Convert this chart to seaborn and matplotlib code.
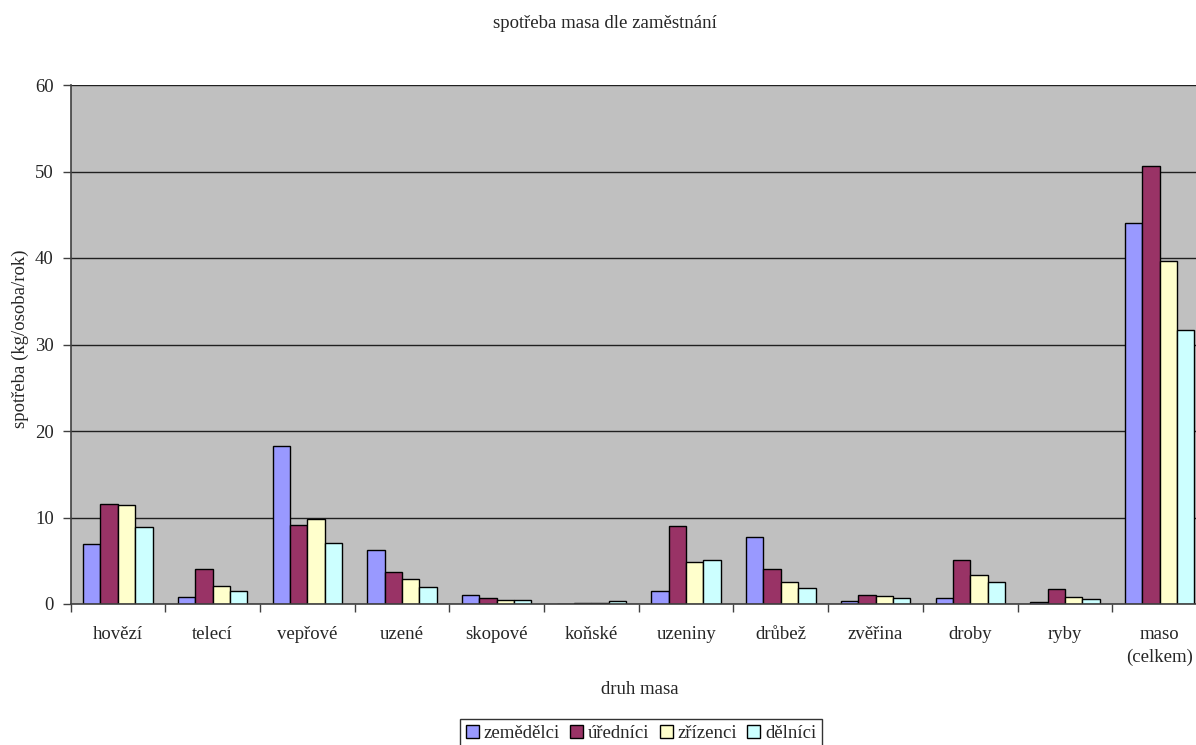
import matplotlib
matplotlib.use("Agg")
import matplotlib.pyplot as plt
from matplotlib.ticker import FixedLocator, NullFormatter
import seaborn as sns
import pandas as pd

categories = ["hovězí", "telecí", "vepřové", "uzené", "skopové", "koňské",
              "uzeniny", "drůbež", "zvěřina", "droby", "ryby", "maso\n(celkem)"]
groups = ["zemědělci", "úředníci", "zřízenci", "dělníci"]

zemedelci = [6.9, 0.8, 18.3, 6.3, 1.0, 0.0, 1.5, 7.8, 0.3, 0.7, 0.2, 44.1]
urednici = [11.6, 4.1, 9.1, 3.7, 0.7, 0.1, 9.0, 4.1, 1.0, 5.1, 1.7, 50.6]
zrizenci = [11.4, 2.1, 9.8, 2.9, 0.5, 0.15, 4.8, 2.5, 0.9, 3.4, 0.8, 39.7]
delnici = [8.9, 1.5, 7.1, 2.0, 0.5, 0.3, 5.1, 1.8, 0.7, 2.6, 0.6, 31.7]

colors = ["#9999FF", "#993366", "#FFFFCC", "#CCFFFF"]

rows = []
for g, vals in zip(groups, [zemedelci, urednici, zrizenci, delnici]):
    for c, v in zip(categories, vals):
        rows.append({"druh": c, "skupina": g, "hodnota": v})
df = pd.DataFrame(rows)

sns.set_style("white")
plt.rcParams["font.family"] = ["Liberation Serif", "DejaVu Serif"]
FS = 13.5

fig = plt.figure(figsize=(11.96, 7.45), dpi=100)
ax = fig.add_axes([70.5 / 1196, 141 / 745, 1136.5 / 1196, 519 / 745])
ax.set_facecolor("#C0C0C0")

sns.barplot(data=df, x="druh", y="hodnota", hue="skupina", order=categories,
            hue_order=groups, palette=colors, width=0.733, gap=0,
            edgecolor="black", linewidth=1.0, saturation=1, ax=ax,
            errorbar=None, legend=True)

ax.set_ylim(0, 60)
ax.set_xlim(-0.5, len(categories) - 0.5)
ax.set_yticks(range(0, 61, 10))
ax.yaxis.grid(True, color="#202020", linewidth=1.0)
ax.set_axisbelow(True)

for s in ["top", "right"]:
    ax.spines[s].set_visible(False)
for s in ["left", "bottom"]:
    ax.spines[s].set_color("#404040")
    ax.spines[s].set_linewidth(1.2)

ax.tick_params(axis="y", direction="out", length=6, width=1, color="#404040",
               labelsize=FS, pad=6, left=True)
ax.tick_params(axis="x", which="major", length=0, labelsize=FS, pad=16)
for lbl in ax.get_xticklabels():
    lbl.set_linespacing(1.45)
ax.xaxis.set_minor_locator(FixedLocator([i - 0.5 for i in range(len(categories) + 1)]))
ax.xaxis.set_minor_formatter(NullFormatter())
ax.tick_params(axis="x", which="minor", direction="out", length=6, width=1,
               color="#404040", bottom=True)

ax.set_xlabel("druh masa", fontsize=FS, va="center")
ax.xaxis.set_label_coords((640 - 70.5) / 1136.5, (604 - 690) / 519)
ax.set_ylabel("spotřeba (kg/osoba/rok)", fontsize=FS, va="center")
ax.yaxis.set_label_coords((20 - 70.5) / 1136.5, (604 - 339) / 519)
fig.text(605 / 1196, 1 - 23 / 745, "spotřeba masa dle zaměstnání",
         ha="center", va="center", fontsize=FS)

leg = ax.legend(loc="upper center", bbox_to_anchor=(641 / 1196, 1 - 719 / 745),
                bbox_transform=fig.transFigure, ncol=4, frameon=True,
                fancybox=False, edgecolor="black", fontsize=FS,
                handlelength=0.7, handleheight=0.7, handletextpad=0.25,
                columnspacing=0.55, borderpad=0.3, borderaxespad=0)
leg.get_frame().set_linewidth(1.0)
for h in leg.legend_handles:
    h.set_edgecolor("black")
    h.set_linewidth(1.0)

fig.savefig("out.png", dpi=100)
